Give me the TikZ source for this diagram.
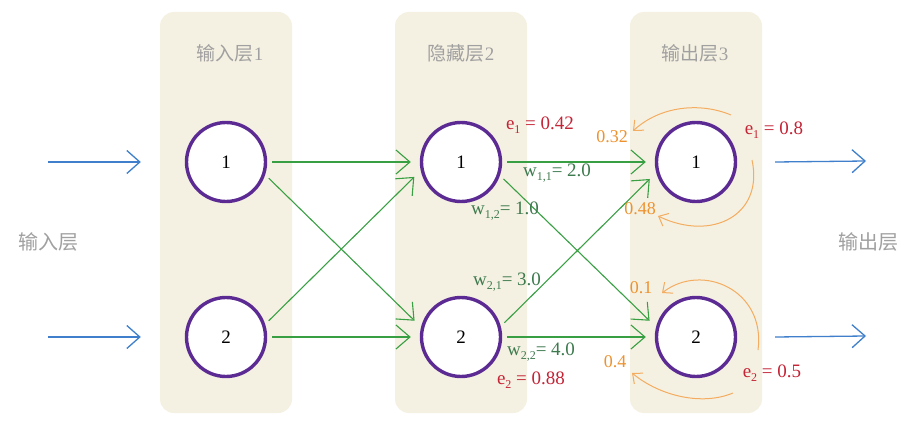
\documentclass[tikz,border=0pt]{standalone}
\usepackage{fontspec}
\setmainfont{Liberation Serif}
\newfontfamily\cjk{Noto Sans CJK SC}
\usetikzlibrary{arrows.meta}
\definecolor{panel}{HTML}{F5F1E2}
\definecolor{ring}{HTML}{5B2A92}
\definecolor{grn}{HTML}{38A043}
\definecolor{wgrn}{HTML}{3D7A4E}
\definecolor{ered}{HTML}{C42436}
\definecolor{org}{HTML}{F4AC60}
\definecolor{orgtxt}{HTML}{EE922E}
\definecolor{blu}{HTML}{3F7FCB}
\definecolor{gry}{HTML}{A0A0A0}
\newcommand{\sbx}[1]{\raisebox{-0.45ex}{\fontsize{12}{12}\selectfont #1}}
\begin{document}
\begin{tikzpicture}[x=1pt,y=-1pt,
  panelbox/.style={fill=panel, rounded corners=14pt},
  neuron/.style={circle, draw=ring, line width=3.4pt, fill=white, minimum size=79pt, inner sep=0pt, font=\fontsize{19}{19}\selectfont},
  conn/.style={draw=grn, line width=1.1pt, shorten <=5pt, shorten >=9pt, -{Straight Barb[length=14pt,width=24pt,line width=1.1pt]}},
  inarr/.style={draw=blu, line width=1.3pt, -{Straight Barb[length=13pt,width=23pt,line width=1.3pt]}},
  loopa/.style={draw=org, line width=1pt, -{Straight Barb[length=8pt,width=14pt,line width=1pt]}},
  wlab/.style={text=wgrn, font=\fontsize{19}{19}\selectfont, inner sep=0pt},
  elab/.style={text=ered, font=\fontsize{19}{19}\selectfont, inner sep=0pt},
  olab/.style={text=orgtxt, font=\fontsize{18}{18}\selectfont, inner sep=0pt},
  layerlab/.style={text=gry, font=\fontsize{19}{19}\selectfont, inner sep=0pt},
  sidelab/.style={text=gry, font=\fontsize{20}{20}\selectfont, inner sep=0pt}
]
\useasboundingbox[fill=white] (0,0) rectangle (908,433);

% panels
\fill[panelbox] (160,12) rectangle (292,413);
\fill[panelbox] (395,12) rectangle (527,413);
\fill[panelbox] (630,12) rectangle (762,413);

\node[layerlab] (L1) at (230,53) {{\cjk 输入层}1};
\node[layerlab] (L2) at (461,53) {{\cjk 隐藏层}2};
\node[layerlab] (L3) at (695,53) {{\cjk 输出层}3};
\node[sidelab] (Lin) at (48,242) {\cjk 输入层};
\node[sidelab] (Lout) at (868,242) {\cjk 输出层};

% neurons
\node[neuron] (a1) at (226,162) {1};
\node[neuron] (a2) at (226,337) {2};
\node[neuron] (b1) at (461,162) {1};
\node[neuron] (b2) at (461,337) {2};
\node[neuron] (c1) at (696,162) {1};
\node[neuron] (c2) at (696,337) {2};

% input / output arrows
\coordinate (in1) at (48,162);
\coordinate (in2) at (48,337);
\coordinate (out1) at (866,161);
\coordinate (out2) at (866,336);
\draw[inarr] (in1) -- ([xshift=-44pt]a1.west);
\draw[inarr] (in2) -- ([xshift=-44pt]a2.west);
\draw[inarr] ([xshift=38pt]c1.east) -- (out1);
\draw[inarr] ([xshift=38pt]c2.east) -- (out2);

% layer 1 -> 2
\draw[conn] (a1.east) -- (b1.west);
\draw[conn] (a1.-18) -- (b2.166);
\draw[conn] (a2.18) -- (b1.192);
\draw[conn] (a2.east) -- (b2.west);

% layer 2 -> 3
\draw[conn] (b1.east) -- (c1.west);
\draw[conn] (b1.-19) -- (c2.166);
\draw[conn] (b2.15) -- (c1.195);
\draw[conn] (b2.east) -- (c2.west);

% weight labels
\node[wlab] (w11) at (557,173) {w\sbx{1,1}= 2.0};
\node[wlab] (w12) at (505,211) {w\sbx{1,2}= 1.0};
\node[wlab] (w21) at (507,282) {w\sbx{2,1}= 3.0};
\node[wlab] (w22) at (541,352) {w\sbx{2,2}= 4.0};

% error labels
\node[elab] (e1h) at (540,125) {e\sbx{1} = 0.42};
\node[elab] (e2h) at (531,380) {e\sbx{2} = 0.88};
\node[elab] (e1o) at (774,130) {e\sbx{1} = 0.8};
\node[elab] (e2o) at (772,373) {e\sbx{2} = 0.5};

% orange labels
\node[olab] (o32) at (612,137) {0.32};
\node[olab] (o48) at (640,209) {0.48};
\node[olab] (o1) at (641,288) {0.1};
\node[olab] (o4) at (615,362) {0.4};

% back-propagation loops
\coordinate (p1s) at (731,115);
\coordinate (p1e) at (633,131);
\coordinate (p2s) at (752,160);
\coordinate (p2e) at (658,216);
\coordinate (p3s) at (758,350);
\coordinate (p3e) at (662,293);
\coordinate (p4s) at (733,393);
\coordinate (p4e) at (632,373);
\draw[loopa] (p1s) .. controls (700,102) and (660,106) .. (p1e);
\draw[loopa] (p2s) .. controls (764,215) and (712,242) .. (p2e);
\draw[loopa] (p3s) .. controls (766,290) and (702,262) .. (p3e);
\draw[loopa] (p4s) .. controls (702,406) and (660,396) .. (p4e);
\end{tikzpicture}
\end{document}
